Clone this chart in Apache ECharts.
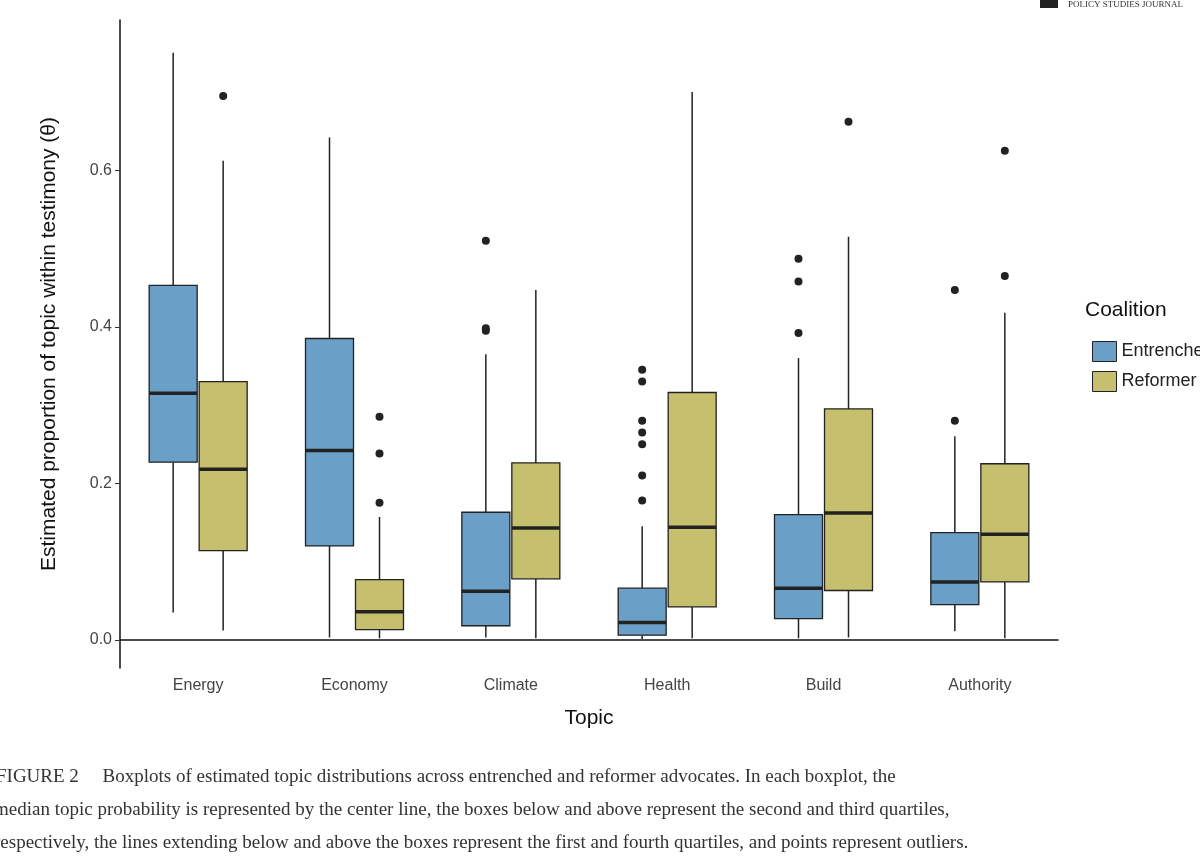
<!DOCTYPE html>
<html><head><meta charset="utf-8">
<script src="https://cdn.jsdelivr.net/npm/echarts@6/dist/echarts.min.js"></script>
<style>html,body{margin:0;padding:0;background:#fff;overflow:hidden}#main{width:1200px;height:856px}</style>
</head><body><div id="main"></div>
<script>
var topics = ['Energy', 'Economy', 'Climate', 'Health', 'Build', 'Authority'];
// [min, q1, median, q3, max]
var entrenched = [
  [0.035, 0.227, 0.315, 0.453, 0.750],
  [0.003, 0.120, 0.242, 0.385, 0.642],
  [0.003, 0.018, 0.062, 0.163, 0.365],
  [0.001, 0.006, 0.022, 0.066, 0.145],
  [0.002, 0.027, 0.066, 0.160, 0.360],
  [0.011, 0.045, 0.074, 0.137, 0.260]
];
var reformer = [
  [0.012, 0.114, 0.218, 0.330, 0.612],
  [0.002, 0.013, 0.036, 0.077, 0.157],
  [0.002, 0.078, 0.143, 0.226, 0.447],
  [0.002, 0.042, 0.144, 0.316, 0.700],
  [0.003, 0.063, 0.162, 0.295, 0.515],
  [0.002, 0.074, 0.135, 0.225, 0.418]
];
var entrenchedOutliers = [
  [2, 0.395], [2, 0.398], [2, 0.510],
  [3, 0.178], [3, 0.210], [3, 0.250], [3, 0.265], [3, 0.280], [3, 0.330], [3, 0.345],
  [4, 0.392], [4, 0.458], [4, 0.487],
  [5, 0.280], [5, 0.447]
];
var reformerOutliers = [
  [0, 0.695],
  [1, 0.175], [1, 0.238], [1, 0.285],
  [4, 0.662],
  [5, 0.465], [5, 0.625]
];

var myChart = echarts.init(document.getElementById('main'));

function boxSeries(name, data, color, off) {
  return {
    name: name, type: 'custom',
    itemStyle: { color: color, borderColor: '#222' },
    data: data.map(function (d, i) { return [i].concat(d); }),
    encode: { x: 0, y: [1, 2, 3, 4, 5] },
    renderItem: function (params, api) {
      var c = api.coord([api.value(0), 0])[0] + off;
      var hw = 24;
      var y = [1, 2, 3, 4, 5].map(function (k) { return api.coord([0, api.value(k)])[1]; });
      var ln = { stroke: '#222', lineWidth: 1.5 };
      return { type: 'group', children: [
        { type: 'line', shape: { x1: c, y1: y[0], x2: c, y2: y[1] }, style: ln },
        { type: 'line', shape: { x1: c, y1: y[3], x2: c, y2: y[4] }, style: ln },
        { type: 'rect', shape: { x: c - hw, y: y[3], width: hw * 2, height: y[1] - y[3] },
          style: { fill: color, stroke: '#222', lineWidth: 1.3 } },
        { type: 'line', shape: { x1: c - hw, y1: y[2], x2: c + hw, y2: y[2] }, style: { stroke: '#222', lineWidth: 3.5 } }
      ] };
    }
  };
}
function outlierSeries(name, data, off) {
  return {
    name: name, type: 'custom', data: data, encode: { x: 0, y: 1 },
    renderItem: function (params, api) {
      var p = api.coord([api.value(0), api.value(1)]);
      return { type: 'circle', shape: { cx: p[0] + off, cy: p[1], r: 4 }, style: { fill: '#222' } };
    }
  };
}

var capStyle = { fontFamily: 'Liberation Serif', fontSize: 19, fill: '#333' };
var option = {
  animation: false,
  textStyle: { fontFamily: 'Liberation Sans' },
  grid: { left: 120, right: 142, top: 20, bottom: 188 },
  legend: {
    orient: 'vertical', left: 1087, top: 336, itemWidth: 24, itemHeight: 20, itemGap: 9,
    textStyle: { fontSize: 18, color: '#222' },
    data: [{ name: 'Entrenched', icon: 'rect', itemStyle: { color: '#6a9fc8', borderColor: '#222', borderWidth: 1 } },
           { name: 'Reformer', icon: 'rect', itemStyle: { color: '#c5bf6e', borderColor: '#222', borderWidth: 1 } }]
  },
  xAxis: {
    type: 'category', data: topics, name: 'Topic', nameLocation: 'middle', nameGap: 40,
    nameTextStyle: { fontSize: 21, color: '#111' },
    axisLine: { lineStyle: { color: '#111', width: 1.5 } },
    axisTick: { alignWithLabel: true, lineStyle: { color: '#333' } },
    axisLabel: { fontSize: 16, color: '#444', margin: 10 }
  },
  yAxis: {
    type: 'value', min: -0.036, max: 0.792,
    name: 'Estimated proportion of topic within testimony (\u03b8)',
    nameLocation: 'middle', nameGap: 60, nameTextStyle: { fontSize: 21, color: '#111' },
    splitLine: { show: false },
    axisLine: { show: true, lineStyle: { color: '#111', width: 1.5 } },
    axisTick: { show: true, customValues: [0, 0.2, 0.4, 0.6], lineStyle: { color: '#333' } },
    axisLabel: { customValues: [0, 0.2, 0.4, 0.6], fontSize: 16, color: '#444',
      formatter: function (v) { return v.toFixed(1); } }
  },
  graphic: [
    { type: 'text', left: 1085, top: 300, style: { text: 'Coalition', fontSize: 21, fill: '#111', fontFamily: 'Liberation Sans' } },
    { type: 'rect', shape: { x: 1040, y: 0, width: 18, height: 8 }, style: { fill: '#222' } },
    { type: 'text', x: 1068, y: 0, style: { text: 'POLICY STUDIES JOURNAL', fontSize: 9, fill: '#333', fontFamily: 'Liberation Serif' } },
    { type: 'text', x: -4, y: 768, style: Object.assign({ text: 'FIGURE 2     Boxplots of estimated topic distributions across entrenched and reformer advocates. In each boxplot, the' }, capStyle) },
    { type: 'text', x: -6, y: 801, style: Object.assign({ text: 'median topic probability is represented by the center line, the boxes below and above represent the second and third quartiles,' }, capStyle) },
    { type: 'text', x: -6, y: 834, style: Object.assign({ text: 'respectively, the lines extending below and above the boxes represent the first and fourth quartiles, and points represent outliers.' }, capStyle) }
  ],
  series: [
    boxSeries('Entrenched', entrenched, '#6a9fc8', -25),
    boxSeries('Reformer', reformer, '#c5bf6e', 25),
    outlierSeries('EntrenchedOut', entrenchedOutliers, -25),
    outlierSeries('ReformerOut', reformerOutliers, 25)
  ]
};
myChart.setOption(option);
</script></body></html>
